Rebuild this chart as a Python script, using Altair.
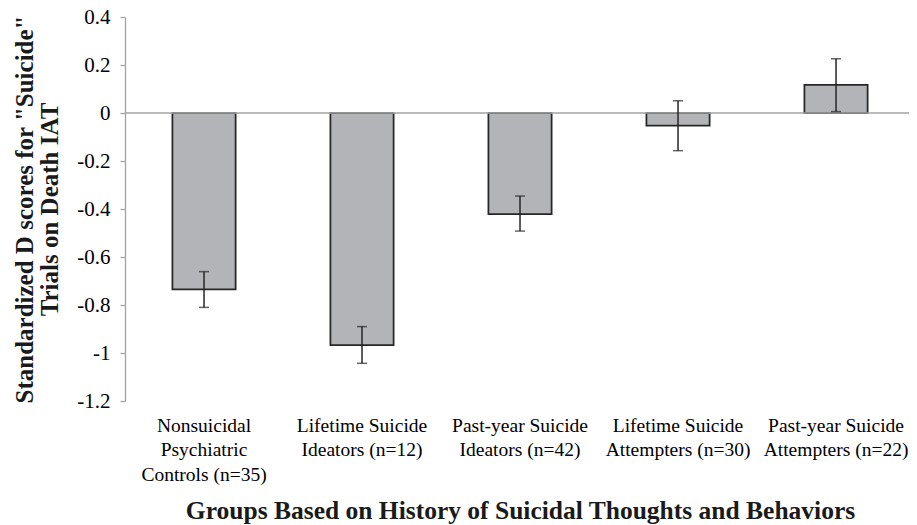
import altair as alt
import pandas as pd

# ---- data ----
groups = [
    "Nonsuicidal|Psychiatric|Controls (n=35)",
    "Lifetime Suicide|Ideators (n=12)",
    "Past-year Suicide|Ideators (n=42)",
    "Lifetime Suicide|Attempters (n=30)",
    "Past-year Suicide|Attempters (n=22)",
]
means = [-0.735, -0.967, -0.421, -0.053, 0.117]
lower = [-0.810, -1.043, -0.492, -0.157, 0.006]
upper = [-0.661, -0.890, -0.346, 0.051, 0.226]
y_ticks = [0.4, 0.2, 0, -0.2, -0.4, -0.6, -0.8, -1, -1.2]
y_title = ['Standardized D scores for "Suicide"', "Trials on Death IAT"]
x_title = "Groups Based on History of Suicidal Thoughts and Behaviors"

df = pd.DataFrame({"group": groups, "mean": means, "lower": lower, "upper": upper})

FONT = "Liberation Serif"
AXIS_GRAY = "#a3a3a3"
DARK = "#262626"

x_enc = alt.X(
    "group:N",
    sort=groups,
    scale=alt.Scale(paddingInner=0.6, paddingOuter=0.281, align=0.534),
    axis=alt.Axis(
        title=x_title,
        labelExpr="split(datum.label, '|')",
        labelAngle=0,
        domain=False,
        ticks=False,
        labelFont=FONT,
        labelFontSize=19.5,
        labelLineHeight=24.5,
        labelColor="black",
        labelBaseline="top",
        labelPadding=15,
        labelLimit=300,
        titleFont=FONT,
        titleFontSize=25.5,
        titleFontWeight="bold",
        titleColor="#1a1a1a",
        titleBaseline="alphabetic",
        titleY=117,
        titleX=395,
    ),
)

y_enc = alt.Y(
    "mean:Q",
    scale=alt.Scale(domain=[-1.2, 0.4], nice=False, zero=False),
    axis=alt.Axis(
        values=y_ticks,
        labelExpr="datum.value == 0 ? '0' : (datum.value < 0 ? '-' : '') + format(abs(datum.value), '~g')",
        grid=False,
        domainColor=AXIS_GRAY,
        domainWidth=1.3,
        tickColor=AXIS_GRAY,
        tickWidth=1.3,
        tickSize=5,
        labelFont=FONT,
        labelFontSize=21,
        labelColor="black",
        labelPadding=10,
        title=y_title,
        titleFont=FONT,
        titleFontSize=25,
        titleFontWeight="bold",
        titleColor="#1a1a1a",
        titleLineHeight=25,
        titleAlign="center",
        titleBaseline="middle",
        titleX=-101,
        titleY=192,
    ),
)

base = alt.Chart(df)

bars = base.mark_bar(fill="#b3b4b8", stroke=DARK, strokeWidth=1.75).encode(
    x=x_enc, y=y_enc, y2=alt.datum(0)
)

zero_line = alt.Chart(pd.DataFrame({"z": [0]})).mark_rule(
    color=AXIS_GRAY, strokeWidth=1.5
).encode(y=alt.Y("z:Q"))

err = base.mark_rule(color=DARK, strokeWidth=1.5).encode(
    x=alt.X("group:N", sort=groups), y="lower:Q", y2="upper:Q"
)
cap_lo = base.mark_tick(color=DARK, thickness=1.5, size=10, orient="horizontal").encode(
    x=alt.X("group:N", sort=groups), y="lower:Q"
)
cap_hi = base.mark_tick(color=DARK, thickness=1.5, size=10, orient="horizontal").encode(
    x=alt.X("group:N", sort=groups), y="upper:Q"
)

chart = (
    alt.layer(bars, zero_line, err, cap_lo, cap_hi)
    .properties(
        width=784,
        height=384,
        autosize="none",
        padding={"left": 117, "top": 9, "right": 0, "bottom": 126},
        background="white",
    )
    .configure_view(stroke=None)
)

chart.save("out.html", embed_options={"renderer": "svg", "actions": False})
